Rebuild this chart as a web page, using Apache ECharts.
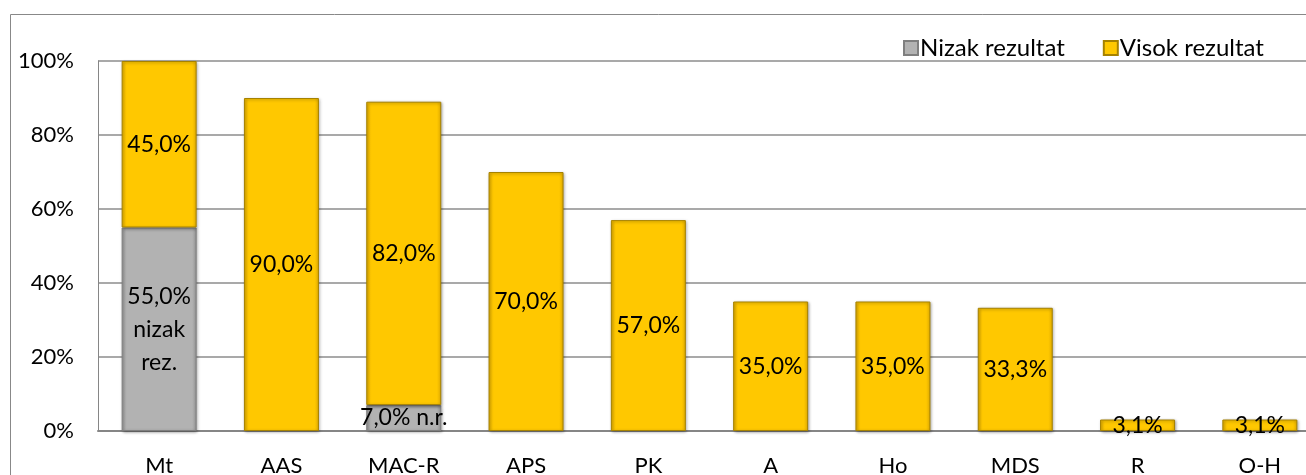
<!DOCTYPE html>
<html><head><meta charset="utf-8">
<script src="https://cdn.jsdelivr.net/npm/echarts@6/dist/echarts.min.js"></script>
<style>html,body{margin:0;padding:0;background:#fff}#c{width:1306px;height:475px}</style>
</head><body><div id="c"></div>
<script>
const categories = ["Mt","AAS","MAC-R","APS","PK","A","Ho","MDS","R","O-H"];
const lowValues = [55, null, 7, null, null, null, null, null, null, null];
const highValues = [45, 90, 82, 70, 57, 35, 35, 33.3, 3.1, 3.1];
const lowNotes = ["\nnizak\nrez.", "", " n.r.", "", "", "", "", "", "", ""];
const yTicks = [0, 20, 40, 60, 80, 100];
const seriesNames = ["Nizak rezultat", "Visok rezultat"];

const FONT = "Lato";
const fmt = v => v.toFixed(1).replace('.', ',') + '%';
const chart = echarts.init(document.getElementById('c'), null, {renderer:'canvas'});
const shadow = {shadowBlur: 3, shadowColor: 'rgba(0,0,0,0.35)', shadowOffsetX: 1, shadowOffsetY: 1};
const grad = (edge, mid) => new echarts.graphic.LinearGradient(0,0,1,0,[
  {offset:0, color:edge},{offset:0.06, color:mid},{offset:0.94, color:mid},{offset:1, color:edge}]);
chart.setOption({
  animation: false,
  textStyle: {fontFamily: FONT, color: '#000'},
  graphic: [{type:'rect', shape:{x:10.5, y:14.5, width:1320, height:480}, style:{fill:'none', stroke:'#888', lineWidth:1}, silent:true}],
  legend: {
    left: 898, top: 31, itemWidth: 14, itemHeight: 14, itemGap: 38, icon: 'rect',
    textStyle: {fontFamily: FONT, fontSize: 24, color: '#000', padding:[0,0,0,-3]},
    data: seriesNames
  },
  grid: {left: 98, top: 61, width: 1223, height: 370, containLabel: false, outerBoundsMode: 'none'},
  xAxis: {
    type: 'category', data: categories,
    axisLine: {lineStyle: {color: '#868686', width: 2}},
    axisTick: {show: false},
    axisLabel: {fontFamily: FONT, fontSize: 22, color: '#000', margin: 24}
  },
  yAxis: {
    type: 'value', min: 0, max: 100, interval: 20,
    axisLine: {show: true, lineStyle: {color: '#868686', width: 1}},
    axisTick: {show: false},
    splitLine: {lineStyle: {color: '#8c8c8c', width: 1.5}},
    axisLabel: {fontFamily: FONT, fontSize: 22, color: '#000', margin: 24,
      formatter: v => yTicks.includes(v) ? v + '%' : ''}
  },
  series: [
    {
      name: seriesNames[0], type: 'bar', stack: 'a', barWidth: 75,
      data: lowValues,
      itemStyle: Object.assign({color: grad('#969696', '#B2B2B2'), borderColor: '#7f7f7f', borderWidth: 1}, shadow),
      label: {show: true, position: 'inside', fontFamily: FONT, fontSize: 23, color: '#000', lineHeight: 33,
        formatter: p => p.value == null ? '' : fmt(p.value) + lowNotes[p.dataIndex]}
    },
    {
      name: seriesNames[1], type: 'bar', stack: 'a', barWidth: 75,
      data: highValues,
      itemStyle: Object.assign({color: grad('#E6B000', '#FFC800'), borderColor: '#A68200', borderWidth: 1}, shadow),
      label: {show: true, position: 'inside', fontFamily: FONT, fontSize: 23, color: '#000',
        formatter: p => fmt(p.value)}
    }
  ]
});
</script></body></html>
